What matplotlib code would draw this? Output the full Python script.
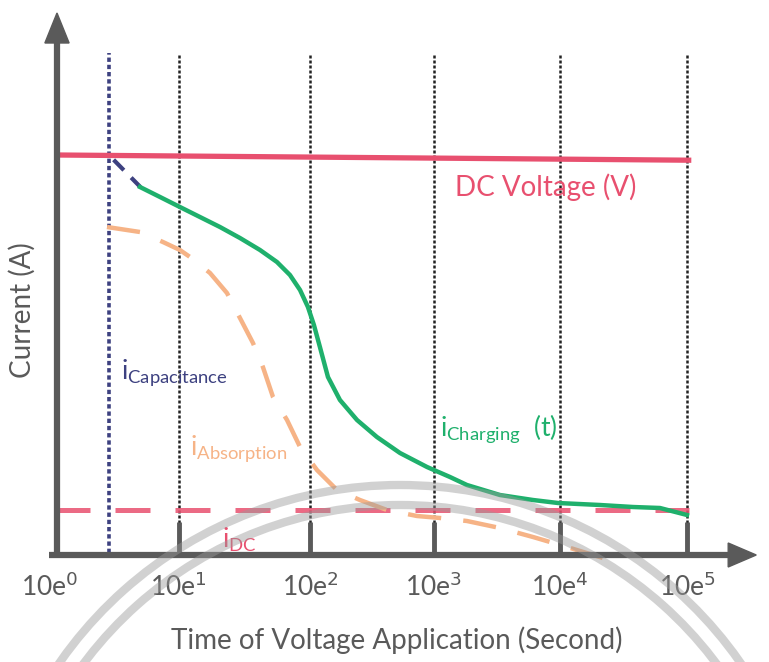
import numpy as np
import matplotlib.pyplot as plt
from matplotlib.patches import Arc, Polygon

plt.rcParams['font.family'] = ['Lato', 'DejaVu Sans']

# x in decades of time (10e0 ... 10e5), y in arbitrary current units
decades = [0, 1, 2, 3, 4, 5]
tick_labels = [r'10e$^{%d}$' % d for d in decades]
grid_x = [0.97, 2.0, 2.97, 3.96, 4.96]
cap_x = 0.42

dc_voltage_x = [0.02, 4.97]
dc_voltage_y = [9.95, 9.82]

cap_curve_x = [0.46, 0.67]
cap_curve_y = [9.83, 9.15]

charging_x = [0.667, 0.824, 0.980, 1.137, 1.294, 1.451, 1.608, 1.741, 1.843, 1.922,
              1.984, 2.031, 2.078, 2.141, 2.235, 2.369, 2.525, 2.706, 2.918, 3.098,
              3.231, 3.490, 3.749, 3.945, 4.275, 4.533, 4.745, 4.957]
charging_y = [9.15, 8.90, 8.65, 8.40, 8.15, 7.875, 7.575, 7.275, 6.95, 6.575,
              6.15, 5.70, 5.15, 4.40, 3.825, 3.325, 2.90, 2.50, 2.15, 1.90,
              1.70, 1.45, 1.325, 1.25, 1.20, 1.15, 1.125, 0.95]

absorption_x = [0.408, 0.667, 0.847, 0.980, 1.059, 1.216, 1.349, 1.451, 1.553, 1.631,
                1.710, 1.820, 1.922, 2.055, 2.212, 2.392, 2.604, 2.839, 3.020, 3.231,
                3.490, 3.749, 4.016, 4.298]
absorption_y = [8.15, 8.025, 7.775, 7.575, 7.40, 7.00, 6.50, 5.875, 5.25, 4.65,
                3.90, 3.325, 2.65, 2.075, 1.575, 1.325, 1.075, 0.925, 0.875, 0.80,
                0.625, 0.40, 0.15, -0.125]

idc_x = [0.0, 4.97]
idc_y = [1.08, 1.08]

pink = '#e8506f'
green = '#1fb06c'
orange = '#f6b386'
navy = '#3d4180'
axis_gray = '#5a5a5a'
text_gray = '#5a5a5a'

fig = plt.figure(figsize=(7.69, 6.62), dpi=100)
ax = fig.add_axes([0, 0, 1, 1])
ax.set_xlim(-0.431, 5.6)
ax.set_ylim(-2.725, 13.825)
ax.axis('off')

# dotted guide lines
for gx in grid_x:
    ax.plot([gx, gx], [0, 12.5], color='#222222', lw=1.8, ls=(0, (1.2, 0.8)), zorder=2)
ax.plot([cap_x, cap_x], [0, 12.5], color=navy, lw=2.6, ls=(0, (1.2, 0.8)), zorder=2)

# tick stubs
for gx in grid_x:
    ax.plot([gx, gx], [0, 0.78], color=axis_gray, lw=3.5, solid_capstyle='butt', zorder=3)

# curves
ax.plot(dc_voltage_x, dc_voltage_y, color=pink, lw=3.8, zorder=4)
ax.plot(idc_x, idc_y, color=pink, lw=3.6, ls=(0, (7, 5)), alpha=0.85, zorder=4)
ax.plot(absorption_x, absorption_y, color=orange, lw=3.2, ls=(0, (7.5, 5)),
        dash_joinstyle='round', zorder=4)
ax.plot(cap_curve_x, cap_curve_y, color=navy, lw=3.0, ls=(0, (3.5, 2.5)), zorder=4)
ax.plot(charging_x, charging_y, color=green, lw=3.2, solid_joinstyle='round', zorder=4)

# axes with arrows
ax.plot([0.016, 0.016], [-0.05, 12.8], color=axis_gray, lw=4.5, solid_capstyle='butt', zorder=5)
ax.plot([-0.05, 5.3], [-0.05, -0.05], color=axis_gray, lw=4.5, solid_capstyle='butt', zorder=5)
ax.add_patch(Polygon([[0.016 - 0.095, 12.75], [0.016 + 0.095, 12.75], [0.016, 13.5]],
                     closed=True, color=axis_gray, zorder=5))
ax.add_patch(Polygon([[5.28, -0.35], [5.28, 0.25], [5.5, -0.05]],
                     closed=True, color=axis_gray, zorder=5))

# watermark arcs
for r_px in [415, 395]:
    ax.add_patch(Arc((2.706, -8.675), 2 * r_px / 127.5, 2 * r_px / 40,
                     theta1=20, theta2=160, color='#9a9a9a', lw=6, alpha=0.45, zorder=6))

# labels
ax.text(3.14, 9.15, 'DC Voltage (V)', color=pink, fontsize=20, va='center', ha='left')
ax.text(0.52, 4.5, r'$\mathregular{i_{Capacitance}}$', color=navy, fontsize=19, va='center')
ax.text(1.06, 2.6, r'$\mathregular{i_{Absorption}}$', color=orange, fontsize=19, va='center')
ax.text(3.02, 3.1, r'$\mathregular{i_{Charging}}$  (t)', color=green, fontsize=19, va='center')
ax.text(1.31, 0.33, r'$\mathregular{i_{DC}}$', color=pink, fontsize=19, va='center')

for d, lab in zip([-0.04] + grid_x, tick_labels):
    ax.text(d, -0.85, lab, color=text_gray, fontsize=19, ha='center', va='center')

ax.text(-0.26, 6.08, 'Current (A)', color=text_gray, fontsize=20, rotation=90,
        ha='center', va='center')
ax.text(2.68, -2.18, 'Time of Voltage Application (Second)', color=text_gray,
        fontsize=20, ha='center', va='center')

fig.savefig('out.png', dpi=100, facecolor='white')
